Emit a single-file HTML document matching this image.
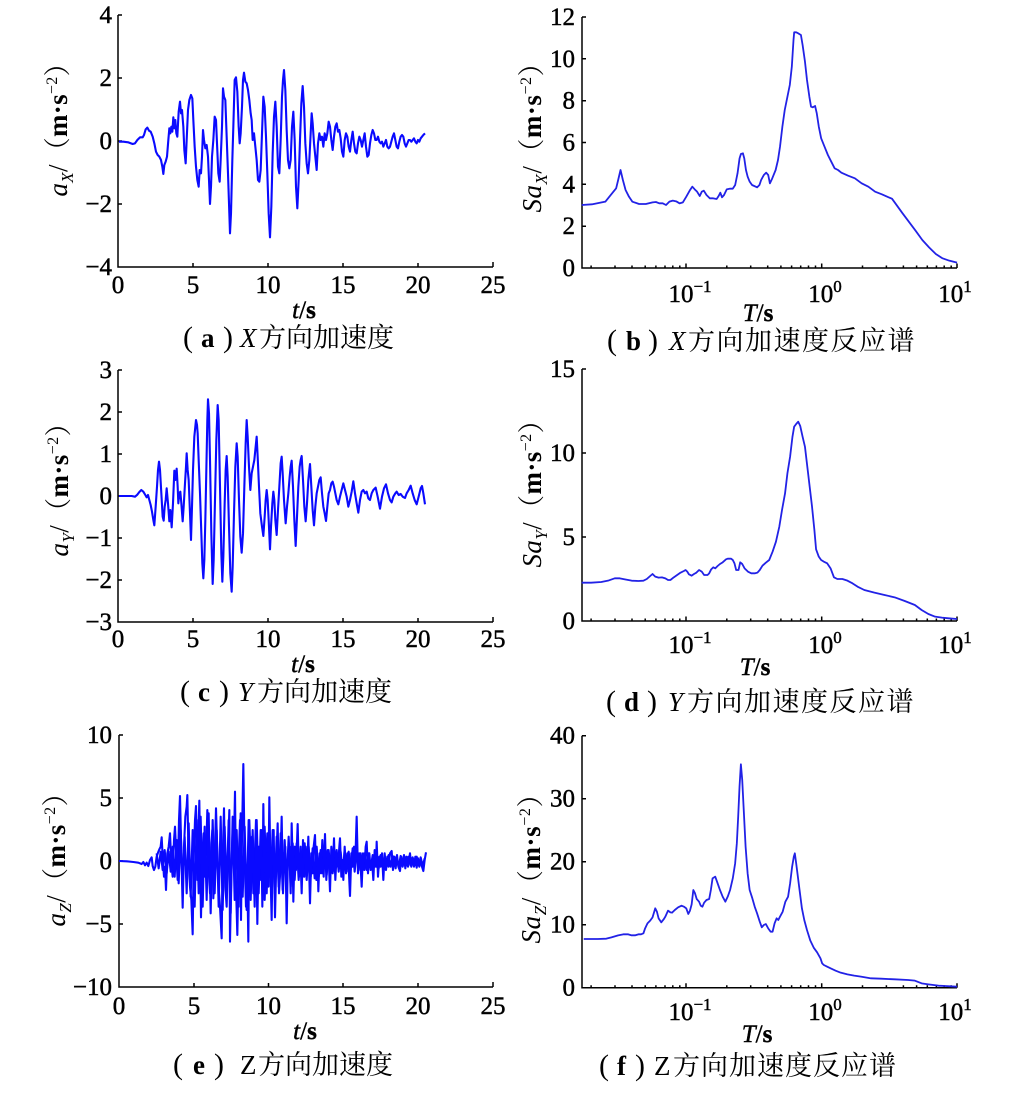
<!DOCTYPE html>
<html><head><meta charset="utf-8"><style>
html,body{margin:0;padding:0;background:#fff;}
svg{display:block;}
text{font-family:"Liberation Serif","Noto Serif CJK SC",serif;fill:#000;}
.tk{font-size:25px;stroke:#000;stroke-width:0.45;}
.cj{font-family:"Noto Serif CJK SC","Liberation Serif",serif;}
.cap{font-size:27px;}
.pa{font-size:30px;}
.ax{fill:none;stroke:#000;stroke-width:1.5;}
.dl{fill:none;stroke:#0a0aff;stroke-width:2.1;stroke-linejoin:round;}
.dr{fill:none;stroke:#2222e6;stroke-width:1.8;stroke-linejoin:round;}
</style></head><body>
<svg width="1020" height="1102" viewBox="0 0 1020 1102" xmlns="http://www.w3.org/2000/svg">
<rect width="1020" height="1102" fill="#fff"/>

<!-- ============ Panel a ============ -->
<path class="ax" d="M118 15V267H493 M118 15h4 M118 78h4 M118 141h4 M118 204h4 M193 267v-4 M268 267v-4 M343 267v-4 M418 267v-4 M493 267v-5"/>
<g class="tk" text-anchor="end">
<text x="112" y="23">4</text><text x="112" y="86">2</text><text x="112" y="149">0</text><text x="112" y="212">−2</text><text x="112" y="275">−4</text>
</g>
<g class="tk" text-anchor="middle">
<text x="118" y="293">0</text><text x="193" y="293">5</text><text x="268" y="293">10</text><text x="343" y="293">15</text><text x="418" y="293">20</text><text x="493" y="293">25</text>
<text x="304" y="318"><tspan font-style="italic">t</tspan>/<tspan font-weight="bold">s</tspan></text>
</g>
<text transform="translate(67,123) rotate(-90)" text-anchor="middle" font-size="27" textLength="147"><tspan font-style="italic">a</tspan><tspan font-style="italic" font-size="17" dy="6">X</tspan><tspan dy="-6">/</tspan><tspan class="cj">（</tspan><tspan font-weight="bold">m·s</tspan><tspan font-size="16" dy="-10">−2</tspan><tspan class="cj" dy="10">）</tspan></text>
<g class="cap">
<text x="183" y="347" class="pa">(</text><text x="201" y="347" font-weight="bold">a</text><text x="223" y="347" class="pa">)</text><text x="240" y="347" font-style="italic">X</text><text x="259" y="347" class="cj">方向加速度</text>
</g>
<g transform="scale(0.333333)">
<polyline class="dl" vector-effect="non-scaling-stroke" points="357,425 370,425 385,427 398,432 405,430 412,420 420,412 428,412 432,405 437,388 442,383 447,392 452,395 458,410 463,430 468,455 473,465 478,470 483,480 487,500 490,522 493,495 497,485 501,470 505,420 508,385 511,400 514,380 517,395 520,352 523,385 526,360 529,400 532,410 536,335 540,305 543,340 546,330 550,380 553,450 557,490 560,420 564,330 568,300 573,285 577,295 580,360 584,440 588,500 592,540 596,560 599,510 603,520 606,470 609,390 612,420 616,445 620,435 624,470 627,540 630,612 633,560 636,470 640,420 644,350 648,360 651,430 655,520 659,545 662,480 666,380 669,265 672,290 676,300 680,410 684,520 688,640 690,700 693,640 697,480 700,380 704,240 708,232 712,275 716,380 719,430 722,400 726,320 729,240 732,218 736,245 740,250 744,270 748,300 752,340 755,360 758,420 762,400 766,440 770,480 774,540 778,545 782,510 786,400 790,290 794,320 798,410 802,520 806,640 810,712 814,620 818,460 822,350 826,305 830,380 834,500 838,520 842,420 846,290 849,240 852,210 856,270 860,390 864,480 868,505 872,480 876,380 880,335 884,420 888,560 892,625 896,540 900,420 904,310 908,258 912,320 916,430 920,490 924,520 928,480 932,400 935,340 938,370 942,430 946,470 950,510 954,430 958,400 962,420 966,410 970,440 974,400 978,420 982,400 986,365 990,380 994,420 998,450 1002,410 1006,380 1010,370 1014,395 1018,390 1022,415 1026,455 1030,470 1034,420 1038,400 1042,410 1046,440 1050,455 1054,420 1058,395 1062,430 1066,455 1070,460 1074,430 1078,410 1082,420 1086,440 1090,420 1094,400 1098,440 1102,470 1106,465 1110,430 1114,405 1118,390 1122,400 1126,420 1130,420 1134,410 1138,425 1142,430 1146,425 1150,440 1154,430 1158,420 1162,440 1166,445 1170,440 1174,425 1178,410 1182,400 1186,420 1190,440 1194,445 1198,425 1202,410 1206,405 1210,410 1214,430 1218,440 1222,430 1226,420 1230,420 1234,425 1238,420 1242,415 1246,425 1250,430 1254,420 1258,425 1262,415 1266,410 1270,405 1275,400"/>
</g>

<!-- ============ Panel b ============ -->
<path class="ax" d="M582 17V268H957 M582 17h4 M582 58.8h4 M582 100.7h4 M582 142.5h4 M582 184.3h4 M582 226.2h4
M686 268v-4.5 M821.7 268v-4.5 M957 268v-4.5
M591.1 268v-2.5 M615 268v-2.5 M632 268v-2.5 M645.2 268v-2.5 M655.9 268v-2.5 M665 268v-2.5 M672.8 268v-2.5 M679.8 268v-2.5
M726.8 268v-2.5 M750.7 268v-2.5 M767.7 268v-2.5 M780.9 268v-2.5 M791.6 268v-2.5 M800.7 268v-2.5 M808.5 268v-2.5 M815.5 268v-2.5
M862.5 268v-2.5 M886.4 268v-2.5 M903.4 268v-2.5 M916.6 268v-2.5 M927.3 268v-2.5 M936.4 268v-2.5 M944.2 268v-2.5 M951.2 268v-2.5"/>
<g class="tk" text-anchor="end">
<text x="575" y="25">12</text><text x="575" y="66.8">10</text><text x="575" y="108.7">8</text><text x="575" y="150.5">6</text><text x="575" y="192.3">4</text><text x="575" y="234.2">2</text><text x="575" y="276">0</text>
</g>
<g class="tk" text-anchor="middle">
<text x="690" y="302">10<tspan dy="-10" font-size="17">−1</tspan></text>
<text x="825" y="302">10<tspan dy="-10" font-size="17">0</tspan></text>
<text x="955" y="302">10<tspan dy="-10" font-size="17">1</tspan></text>
<text x="758" y="321"><tspan font-style="italic">T</tspan>/<tspan font-weight="bold">s</tspan></text>
</g>
<text transform="translate(541,131) rotate(-90)" text-anchor="middle" font-size="27" textLength="163"><tspan font-style="italic">Sa</tspan><tspan font-style="italic" font-size="17" dy="6">X</tspan><tspan dy="-6">/</tspan><tspan class="cj">（</tspan><tspan font-weight="bold">m·s</tspan><tspan font-size="16" dy="-10">−2</tspan><tspan class="cj" dy="10">）</tspan></text>
<g class="cap">
<text x="607" y="350" class="pa">(</text><text x="626" y="350" font-weight="bold">b</text><text x="648" y="350" class="pa">)</text><text x="669" y="350" font-style="italic">X</text><text x="688" y="350" class="cj" letter-spacing="1.5">方向加速度反应谱</text>
</g>
<g transform="matrix(0.3372 0 0 0.333333 490.7 0)">
<polyline class="dr" vector-effect="non-scaling-stroke" points="270,615 300,613 340,605 360,580 372,565 378,540 385,510 392,540 400,570 410,590 420,605 440,612 460,612 480,607 490,606 500,610 510,610 520,615 530,605 540,602 550,604 560,610 570,607 580,590 590,572 598,560 605,568 612,575 620,588 626,575 632,572 640,585 650,595 660,595 670,597 676,588 681,578 686,592 692,585 700,568 710,566 718,566 725,555 732,520 738,475 742,462 748,460 752,475 757,510 762,530 768,545 775,555 790,562 797,555 802,540 810,525 817,518 823,525 828,550 835,535 845,510 852,480 858,440 865,380 872,330 880,290 887,255 893,200 898,120 900,97 906,97 912,100 920,105 925,135 932,185 938,240 945,290 950,320 955,322 962,318 967,340 973,380 980,415 990,440 1000,465 1010,485 1020,505 1030,510 1040,518 1060,527 1080,535 1100,550 1120,560 1140,575 1160,583 1180,592 1190,596 1200,610 1220,638 1240,665 1260,692 1280,720 1300,742 1320,762 1340,775 1360,782 1383,788"/>
</g>

<!-- ============ Panel c ============ -->
<path class="ax" d="M118 370V622H493 M118 370h4 M118 412h4 M118 454h4 M118 496h4 M118 538h4 M118 580h4 M193 622v-4 M268 622v-4 M343 622v-4 M418 622v-4 M493 622v-5"/>
<g class="tk" text-anchor="end">
<text x="112" y="378">3</text><text x="112" y="420">2</text><text x="112" y="462">1</text><text x="112" y="504">0</text><text x="112" y="546">−1</text><text x="112" y="588">−2</text><text x="112" y="630">−3</text>
</g>
<g class="tk" text-anchor="middle">
<text x="118" y="647">0</text><text x="193" y="647">5</text><text x="268" y="647">10</text><text x="343" y="647">15</text><text x="418" y="647">20</text><text x="493" y="647">25</text>
<text x="303" y="672"><tspan font-style="italic">t</tspan>/<tspan font-weight="bold">s</tspan></text>
</g>
<text transform="translate(68,483) rotate(-90)" text-anchor="middle" font-size="27" textLength="147"><tspan font-style="italic">a</tspan><tspan font-style="italic" font-size="17" dy="6">Y</tspan><tspan dy="-6">/</tspan><tspan class="cj">（</tspan><tspan font-weight="bold">m·s</tspan><tspan font-size="16" dy="-10">−2</tspan><tspan class="cj" dy="10">）</tspan></text>
<g class="cap">
<text x="180" y="701" class="pa">(</text><text x="198" y="701" font-weight="bold">c</text><text x="219" y="701" class="pa">)</text><text x="238" y="701" font-style="italic">Y</text><text x="257" y="701" class="cj">方向加速度</text>
</g>
<g transform="translate(0,360) scale(0.333333)">
<polyline class="dl" vector-effect="non-scaling-stroke" points="357,408 380,408 395,408 405,410 412,404 418,396 424,390 430,395 436,405 440,412 444,405 448,420 452,435 456,455 460,480 463,496 467,440 471,380 474,330 477,305 480,330 484,400 488,470 491,482 494,440 497,420 500,385 504,430 508,484 511,450 515,502 519,430 523,332 526,360 530,326 533,380 535,430 538,400 541,395 544,430 548,484 551,440 555,370 558,320 560,280 563,330 566,360 570,460 573,540 576,440 579,330 583,230 586,200 588,180 591,195 593,220 596,300 600,400 604,520 607,610 610,655 613,600 616,480 619,330 622,180 624,118 627,160 630,300 634,520 638,672 641,600 645,420 649,240 653,135 656,180 660,380 664,580 667,665 670,590 674,430 677,330 680,288 683,350 687,500 691,640 695,695 698,620 702,460 706,320 710,250 713,290 717,420 721,530 725,578 729,520 733,380 737,250 740,180 743,230 747,320 751,390 755,340 759,320 763,300 767,260 770,230 773,290 777,380 781,460 786,500 790,528 794,470 797,420 800,390 803,420 806,480 810,568 813,500 817,430 820,395 823,420 826,480 830,525 834,450 838,380 842,310 845,290 848,340 852,420 857,490 861,440 865,400 869,350 872,320 875,302 879,380 883,480 887,558 891,470 895,380 899,320 902,300 905,288 909,360 913,440 917,484 921,430 925,360 928,330 930,312 934,380 938,450 942,496 946,440 950,400 954,380 958,360 962,352 966,400 970,440 974,460 978,483 982,440 986,400 990,390 994,370 998,365 1002,380 1006,400 1010,420 1015,433 1020,410 1025,390 1030,370 1035,390 1040,410 1045,440 1050,420 1055,395 1060,364 1065,400 1070,430 1075,458 1080,420 1085,395 1090,390 1095,400 1100,395 1105,415 1110,420 1115,400 1120,390 1127,383 1133,410 1140,446 1146,410 1152,385 1158,373 1164,400 1170,420 1175,427 1180,410 1186,400 1190,395 1196,405 1202,402 1208,410 1215,414 1220,400 1226,390 1232,377 1238,400 1244,420 1250,433 1256,410 1262,385 1266,378 1270,400 1275,433"/>
</g>

<!-- ============ Panel d ============ -->
<path class="ax" d="M582 369V621H957 M582 369h4 M582 453h4 M582 537h4
M686 621v-4.5 M821.7 621v-4.5 M957 621v-4.5
M591.1 621v-2.5 M615 621v-2.5 M632 621v-2.5 M645.2 621v-2.5 M655.9 621v-2.5 M665 621v-2.5 M672.8 621v-2.5 M679.8 621v-2.5
M726.8 621v-2.5 M750.7 621v-2.5 M767.7 621v-2.5 M780.9 621v-2.5 M791.6 621v-2.5 M800.7 621v-2.5 M808.5 621v-2.5 M815.5 621v-2.5
M862.5 621v-2.5 M886.4 621v-2.5 M903.4 621v-2.5 M916.6 621v-2.5 M927.3 621v-2.5 M936.4 621v-2.5 M944.2 621v-2.5 M951.2 621v-2.5"/>
<g class="tk" text-anchor="end">
<text x="575" y="377">15</text><text x="575" y="461">10</text><text x="575" y="545">5</text><text x="575" y="629">0</text>
</g>
<g class="tk" text-anchor="middle">
<text x="690" y="653">10<tspan dy="-10" font-size="17">−1</tspan></text>
<text x="825" y="653">10<tspan dy="-10" font-size="17">0</tspan></text>
<text x="955" y="653">10<tspan dy="-10" font-size="17">1</tspan></text>
<text x="755" y="675"><tspan font-style="italic">T</tspan>/<tspan font-weight="bold">s</tspan></text>
</g>
<text transform="translate(541,487) rotate(-90)" text-anchor="middle" font-size="27" textLength="161"><tspan font-style="italic">Sa</tspan><tspan font-style="italic" font-size="17" dy="6">Y</tspan><tspan dy="-6">/</tspan><tspan class="cj">（</tspan><tspan font-weight="bold">m·s</tspan><tspan font-size="16" dy="-10">−2</tspan><tspan class="cj" dy="10">）</tspan></text>
<g class="cap">
<text x="606" y="711" class="pa">(</text><text x="624" y="711" font-weight="bold">d</text><text x="647" y="711" class="pa">)</text><text x="668" y="711" font-style="italic">Y</text><text x="687" y="711" class="cj" letter-spacing="1.5">方向加速度反应谱</text>
</g>
<g transform="matrix(0.3372 0 0 0.333333 490 360)">
<polyline class="dr" vector-effect="non-scaling-stroke" points="272,668 300,668 330,666 350,662 370,655 385,655 400,658 420,662 440,663 455,662 465,657 475,648 482,642 490,650 500,653 510,652 520,655 528,660 535,660 545,652 555,645 565,638 575,633 580,630 585,635 590,643 598,647 605,642 612,638 620,630 628,635 635,645 645,645 650,640 656,628 662,622 668,625 675,618 682,612 690,607 700,598 705,596 715,596 720,600 725,610 730,630 737,630 742,607 748,612 755,625 765,635 775,640 785,640 793,638 800,630 808,617 818,608 828,600 838,575 848,545 858,500 866,450 875,400 882,340 890,290 897,230 902,200 908,192 914,185 920,198 927,230 934,260 941,320 948,380 955,440 962,510 967,568 975,590 982,600 990,605 1000,610 1010,625 1020,652 1030,657 1045,657 1060,662 1075,670 1090,680 1110,690 1140,698 1170,705 1200,712 1230,723 1260,735 1280,750 1300,762 1320,770 1340,773 1360,775 1385,777"/>
</g>

<!-- ============ Panel e ============ -->
<path class="ax" d="M119 735V987H493 M119 735h4 M119 798h4 M119 861h4 M119 924h4 M194 987v-4 M268.5 987v-4 M343 987v-4 M418 987v-4 M493 987v-5"/>
<g class="tk" text-anchor="end">
<text x="112" y="743">10</text><text x="112" y="806">5</text><text x="112" y="869">0</text><text x="112" y="932">−5</text><text x="112" y="995">−10</text>
</g>
<g class="tk" text-anchor="middle">
<text x="119" y="1014">0</text><text x="194" y="1014">5</text><text x="268.5" y="1014">10</text><text x="343" y="1014">15</text><text x="418" y="1014">20</text><text x="493" y="1014">25</text>
<text x="305" y="1039"><tspan font-style="italic">t</tspan>/<tspan font-weight="bold">s</tspan></text>
</g>
<text transform="translate(65,853) rotate(-90)" text-anchor="middle" font-size="27" textLength="147"><tspan font-style="italic">a</tspan><tspan font-style="italic" font-size="17" dy="6">Z</tspan><tspan dy="-6">/</tspan><tspan class="cj">（</tspan><tspan font-weight="bold">m·s</tspan><tspan font-size="16" dy="-10">−2</tspan><tspan class="cj" dy="10">）</tspan></text>
<g class="cap">
<text x="173" y="1074" class="pa">(</text><text x="193" y="1074" font-weight="bold">e</text><text x="214" y="1074" class="pa">)</text><text x="240" y="1074">Z</text><text x="258" y="1074" class="cj">方向加速度</text>
</g>
<g transform="translate(0,720) scale(0.333333)">
<polyline class="dl" vector-effect="non-scaling-stroke" points="357,423 380,424 400,426 415,428 425,432 430,426 435,436 440,428 445,438 450,420 455,412 458,438 462,450 466,440 470,410 474,398 478,388 482,380 485,352 488,410 492,470 495,440 498,510 502,400 506,380 510,340 514,430 518,470 522,360 525,320 529,410 533,480 537,300 540,228 544,400 548,563 552,380 556,290 560,260 562,225 566,420 570,500 574,540 578,643 581,420 585,300 588,258 592,480 595,350 598,242 601,460 603,592 607,400 611,340 615,470 619,380 622,270 626,450 630,520 634,380 637,330 640,535 644,420 648,265 652,400 656,500 660,560 665,655 668,420 672,265 676,500 680,560 684,400 688,270 690,665 694,460 698,330 701,420 705,215 708,500 712,645 716,420 720,300 723,600 726,350 730,132 734,420 738,560 742,480 745,665 748,300 752,420 756,350 760,520 764,420 768,300 772,612 776,380 780,480 784,330 787,560 790,252 794,540 798,420 802,340 805,500 808,232 812,480 815,600 818,380 821,330 825,592 829,420 833,310 837,520 841,450 845,290 849,520 853,400 856,380 860,610 864,400 868,380 872,520 875,310 878,430 880,545 884,380 888,450 893,312 897,470 901,400 905,520 909,360 913,470 917,380 921,460 925,350 930,550 934,400 938,460 941,380 945,345 949,480 953,420 955,514 959,400 963,460 967,360 971,470 975,342 979,480 983,390 987,440 990,514 994,380 998,460 1002,355 1006,480 1010,400 1014,440 1018,380 1020,355 1024,470 1028,420 1030,480 1034,380 1038,460 1042,400 1046,440 1050,528 1054,400 1058,440 1062,380 1066,420 1070,290 1074,460 1078,400 1082,440 1085,500 1089,400 1093,450 1097,380 1100,365 1104,460 1108,400 1112,450 1116,420 1120,480 1124,390 1128,440 1130,365 1134,470 1138,410 1142,440 1146,400 1150,480 1154,400 1158,450 1162,410 1166,440 1170,400 1175,393 1179,450 1183,410 1187,445 1191,405 1195,440 1200,453 1204,410 1208,440 1212,405 1216,445 1220,410 1224,440 1230,400 1234,440 1238,415 1242,440 1246,410 1250,443 1254,415 1258,440 1262,420 1266,440 1270,453 1274,420 1278,397"/>
<polyline class="dl" vector-effect="non-scaling-stroke" points="470,400 476,445 482,395 488,450 494,390 500,460 506,395 512,455 518,380 524,470 530,360 536,490 542,330 548,500 554,350 560,520 566,310 572,530 578,330 584,560 590,300 596,520 602,290 608,560 614,320 620,540 626,280 632,580 638,300 644,520 650,330 656,560 662,290 668,570 674,320 680,520 686,300 692,580 698,290 704,540 710,330 716,560 722,280 728,530 734,320 740,570 746,300 752,540 758,330 764,560 770,300 776,520 782,330 788,540 794,320 800,520 806,340 812,500 818,330 824,520 830,350 836,500 842,340 848,510 854,360 860,490 866,350 872,500 878,370 884,480 890,370 896,480 902,380 908,470 914,370 920,480 926,380 932,470 938,385 944,475 950,380 956,470 962,390 968,460 974,385 980,465 986,390 992,460 998,395 1004,455 1010,390 1016,455 1022,395 1028,460 1034,390 1040,455 1046,395 1052,450 1058,385 1064,455 1070,395 1076,450 1082,400 1088,445 1094,400 1100,450 1106,400 1112,445 1118,405 1124,440 1130,405 1136,445 1142,405 1148,440 1154,408 1160,440 1166,405 1172,440 1178,408 1184,438 1190,410 1196,440 1202,408 1208,438 1214,410 1220,436 1226,410 1232,436 1238,412 1244,436 1250,410 1256,436 1262,412 1268,438 1274,415"/>
</g>

<!-- ============ Panel f ============ -->
<path class="ax" d="M582 735.7V987.7H957 M582 735.7h4 M582 798.7h4 M582 861.7h4 M582 924.7h4
M686 987.7v-4.5 M821.7 987.7v-4.5 M957 987.7v-4.5
M591.1 987.7v-2.5 M615 987.7v-2.5 M632 987.7v-2.5 M645.2 987.7v-2.5 M655.9 987.7v-2.5 M665 987.7v-2.5 M672.8 987.7v-2.5 M679.8 987.7v-2.5
M726.8 987.7v-2.5 M750.7 987.7v-2.5 M767.7 987.7v-2.5 M780.9 987.7v-2.5 M791.6 987.7v-2.5 M800.7 987.7v-2.5 M808.5 987.7v-2.5 M815.5 987.7v-2.5
M862.5 987.7v-2.5 M886.4 987.7v-2.5 M903.4 987.7v-2.5 M916.6 987.7v-2.5 M927.3 987.7v-2.5 M936.4 987.7v-2.5 M944.2 987.7v-2.5 M951.2 987.7v-2.5"/>
<g class="tk" text-anchor="end">
<text x="575" y="743.7">40</text><text x="575" y="806.7">30</text><text x="575" y="869.7">20</text><text x="575" y="932.7">10</text><text x="575" y="995.7">0</text>
</g>
<g class="tk" text-anchor="middle">
<text x="690" y="1020">10<tspan dy="-10" font-size="17">−1</tspan></text>
<text x="825" y="1020">10<tspan dy="-10" font-size="17">0</tspan></text>
<text x="955" y="1020">10<tspan dy="-10" font-size="17">1</tspan></text>
<text x="757" y="1042"><tspan font-style="italic">T</tspan>/<tspan font-weight="bold">s</tspan></text>
</g>
<text transform="translate(540,862) rotate(-90)" text-anchor="middle" font-size="27" textLength="163"><tspan font-style="italic">Sa</tspan><tspan font-style="italic" font-size="17" dy="6">Z</tspan><tspan dy="-6">/</tspan><tspan class="cj">（</tspan><tspan font-weight="bold">m·s</tspan><tspan font-size="16" dy="-10">−2</tspan><tspan class="cj" dy="10">）</tspan></text>
<g class="cap">
<text x="599" y="1075" class="pa">(</text><text x="617" y="1075" font-weight="bold">f</text><text x="635" y="1075" class="pa">)</text><text x="654" y="1075">Z</text><text x="673" y="1075" class="cj" letter-spacing="1">方向加速度反应谱</text>
</g>
<g transform="matrix(0.3372 0 0 0.333333 490 720)">
<polyline class="dr" vector-effect="non-scaling-stroke" points="278,657 300,657 320,657 345,656 360,652 380,646 395,643 410,643 420,646 430,646 440,643 448,643 455,640 460,625 467,610 475,602 482,592 490,565 495,575 500,595 508,607 515,598 520,590 528,572 535,577 540,578 548,570 558,562 568,557 575,560 582,565 588,582 593,572 598,553 603,510 608,520 613,537 620,545 625,557 630,560 635,548 642,540 650,537 655,510 660,475 668,470 675,490 682,510 690,530 698,545 705,530 712,510 720,475 727,430 732,370 736,290 740,200 744,133 748,180 752,260 758,380 764,460 770,510 778,535 785,560 792,580 800,605 806,622 812,615 818,612 825,625 832,635 838,635 844,610 850,595 855,600 860,590 868,575 876,545 884,530 890,490 896,440 901,410 904,400 908,430 913,470 918,510 925,565 932,600 940,630 950,662 960,683 970,697 980,715 985,730 990,735 1000,740 1010,745 1025,752 1040,758 1060,763 1080,767 1100,770 1130,775 1160,776 1200,778 1240,780 1260,782 1280,790 1300,793 1330,797 1350,798 1385,800"/>
</g>
</svg>
</body></html>
